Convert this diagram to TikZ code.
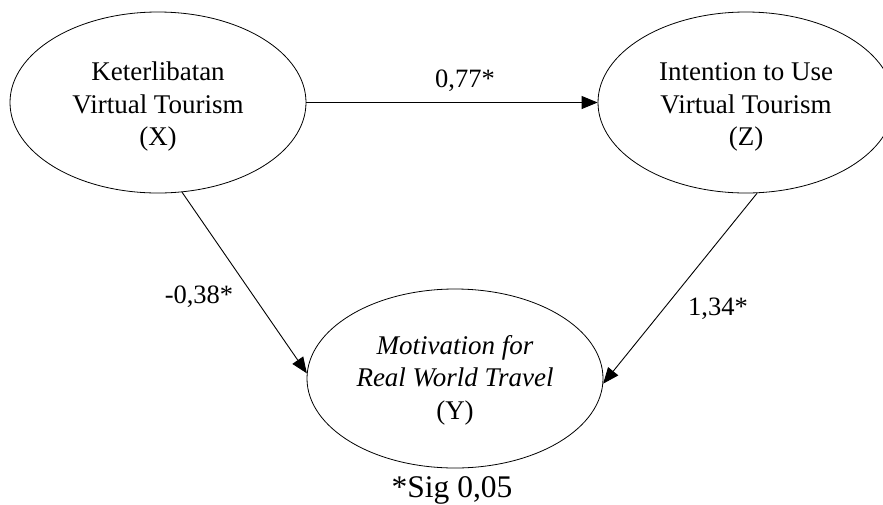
\documentclass[tikz,border=0pt]{standalone}
\usepackage{fontspec}
\setmainfont{Liberation Serif}
\usetikzlibrary{arrows.meta,shapes.geometric}
\begin{document}
\begin{tikzpicture}[x=1pt,y=-1pt,
  ell/.style={ellipse,draw,line width=0.8pt,inner sep=0pt,minimum width=296pt,minimum height=181pt},
  txt/.style={align=center,font=\fontsize{27}{32.5}\selectfont,inner sep=0pt},
  lab/.style={font=\fontsize{26.5}{32}\selectfont,inner sep=0pt},
  arr/.style={line width=0.9pt,-{Triangle[length=16pt,width=13pt]}}]
\useasboundingbox (0,0) rectangle (883,504);
\clip (0,0) rectangle (883,504);
% ellipses
\node[ell] (X) at (158,102.5) {};
\node[ell] (Z) at (746,102.5) {};
\node[ell, minimum height=179pt] (Y) at (455,378.5) {};
% texts
\node[txt] (Xt) at (158,107) {Keterlibatan\\Virtual Tourism\\(X)};
\node[txt] (Zt) at (746,107) {Intention to Use\\Virtual Tourism\\(Z)};
\node[txt] (Yt) at (455,380) {\textit{Motivation for}\\\textit{Real World Travel}\\(Y)};
% connectors
\draw[arr] (X.east) -- (Z.west);
\draw[arr] (X.-75) -- (Y.178);
\draw[arr] (Z.-83) -- (Y.-2);
% labels
\node[lab] (l1) at (465,81) {0,77*};
\node[lab] (l2) at (199,297) {-0,38*};
\node[lab] (l3) at (718,309) {1,34*};
\node[font=\fontsize{31.5}{36}\selectfont,inner sep=0pt] (sig) at (452,490) {*Sig 0,05};
\end{tikzpicture}
\end{document}
